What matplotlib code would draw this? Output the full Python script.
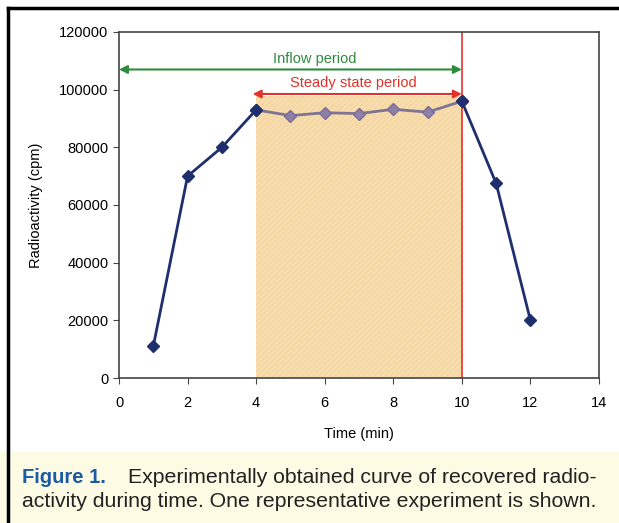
import numpy as np
import matplotlib.pyplot as plt
from matplotlib.patches import Rectangle

plt.rcParams['font.family'] = ['Liberation Sans', 'DejaVu Sans']
plt.rcParams['hatch.linewidth'] = 0.4

# data
tiempo = [1, 2, 3, 4, 5, 6, 7, 8, 9, 10, 11, 12]
radio = [11000, 70000, 80000, 93000, 91000, 92000, 91700, 93200, 92200, 96000, 67500, 20000]
t_estable = [4, 5, 6, 7, 8, 9, 10]
r_estable = [93000, 91000, 92000, 91700, 93200, 92200, 96000]
xticks = [0, 2, 4, 6, 8, 10, 12, 14]
yticks = [0, 20000, 40000, 60000, 80000, 100000, 120000]

fig = plt.figure(figsize=(6.19, 5.23), dpi=100)
ax = fig.add_axes([119/619, 1-378/523, 480/619, 346/523])

# zona estacionaria sombreada
ax.add_patch(Rectangle((4, 0), 6, 97800, facecolor='#f7dcae', edgecolor='#f3cf8e',
                       hatch='//////', linewidth=0, zorder=1))

# curva
ax.plot(tiempo[:4], radio[:4], color='#1f2f6e', lw=2, marker='D', ms=6.5, zorder=3)
ax.plot(tiempo[9:], radio[9:], color='#1f2f6e', lw=2, marker='D', ms=6.5, zorder=3)
ax.plot(t_estable, r_estable, color='#7f7493', lw=2, marker='D', ms=6.5,
        markerfacecolor='#8d7fa8', markeredgecolor='#7a6d95', zorder=3)
ax.plot([4, 10], [93000, 96000], ls='none', marker='D', ms=6.5, color='#1f2f6e', zorder=4)

# linea roja vertical
ax.axvline(10, color='#e3322b', lw=1.2, zorder=2)

# flechas
ax.annotate('', xy=(0, 107000), xytext=(10, 107000),
            arrowprops=dict(arrowstyle='<|-|>', color='#2e8b3e', lw=1.5, mutation_scale=12,
                            shrinkA=0, shrinkB=0))
ax.text(5.7, 110700, 'Inflow period', color='#2e8b3e', fontsize=10.5, ha='center', va='center')
ax.annotate('', xy=(3.9, 98500), xytext=(10, 98500),
            arrowprops=dict(arrowstyle='<|-|>', color='#e3322b', lw=1.5, mutation_scale=12,
                            shrinkA=0, shrinkB=0))
ax.text(6.85, 102400, 'Steady state period', color='#e3322b', fontsize=10.5, ha='center', va='center')

ax.set_xlim(0, 14)
ax.set_ylim(0, 120000)
ax.set_xticks(xticks)
ax.set_yticks(yticks)
ax.tick_params(labelsize=10.5, color='#444444', direction='out', length=4)
ax.tick_params(axis='x', pad=9)
for s in ax.spines.values():
    s.set_color('#444444')
    s.set_linewidth(1.2)
ax.set_xlabel('Time (min)', fontsize=10.5, labelpad=12)
ax.set_ylabel('Radioactivity (cpm)', fontsize=10.5, labelpad=12)

# marco y pie de figura
fig.patches.append(Rectangle((0, 0), 1, 1-452/523, transform=fig.transFigure,
                             facecolor='#fdfbe4', edgecolor='none', zorder=0))
fig.add_artist(plt.Line2D([8/619, 8/619], [0, 1-8/523], color='black', lw=2.5))
fig.add_artist(plt.Line2D([8/619, 1], [1-8/523, 1-8/523], color='black', lw=2.5))

fig.text(22/619, 1-483/523, 'Figure 1.', color='#1a5aa6', fontsize=14.5, fontweight='bold',
         va='baseline')
fig.text(128/619, 1-483/523, 'Experimentally obtained curve of recovered radio-',
         fontsize=15.3, va='baseline', color='#222222')
fig.text(22/619, 1-507/523, 'activity during time. One representative experiment is shown.',
         fontsize=15.3, va='baseline', color='#222222')

fig.savefig('out.png', dpi=100)
